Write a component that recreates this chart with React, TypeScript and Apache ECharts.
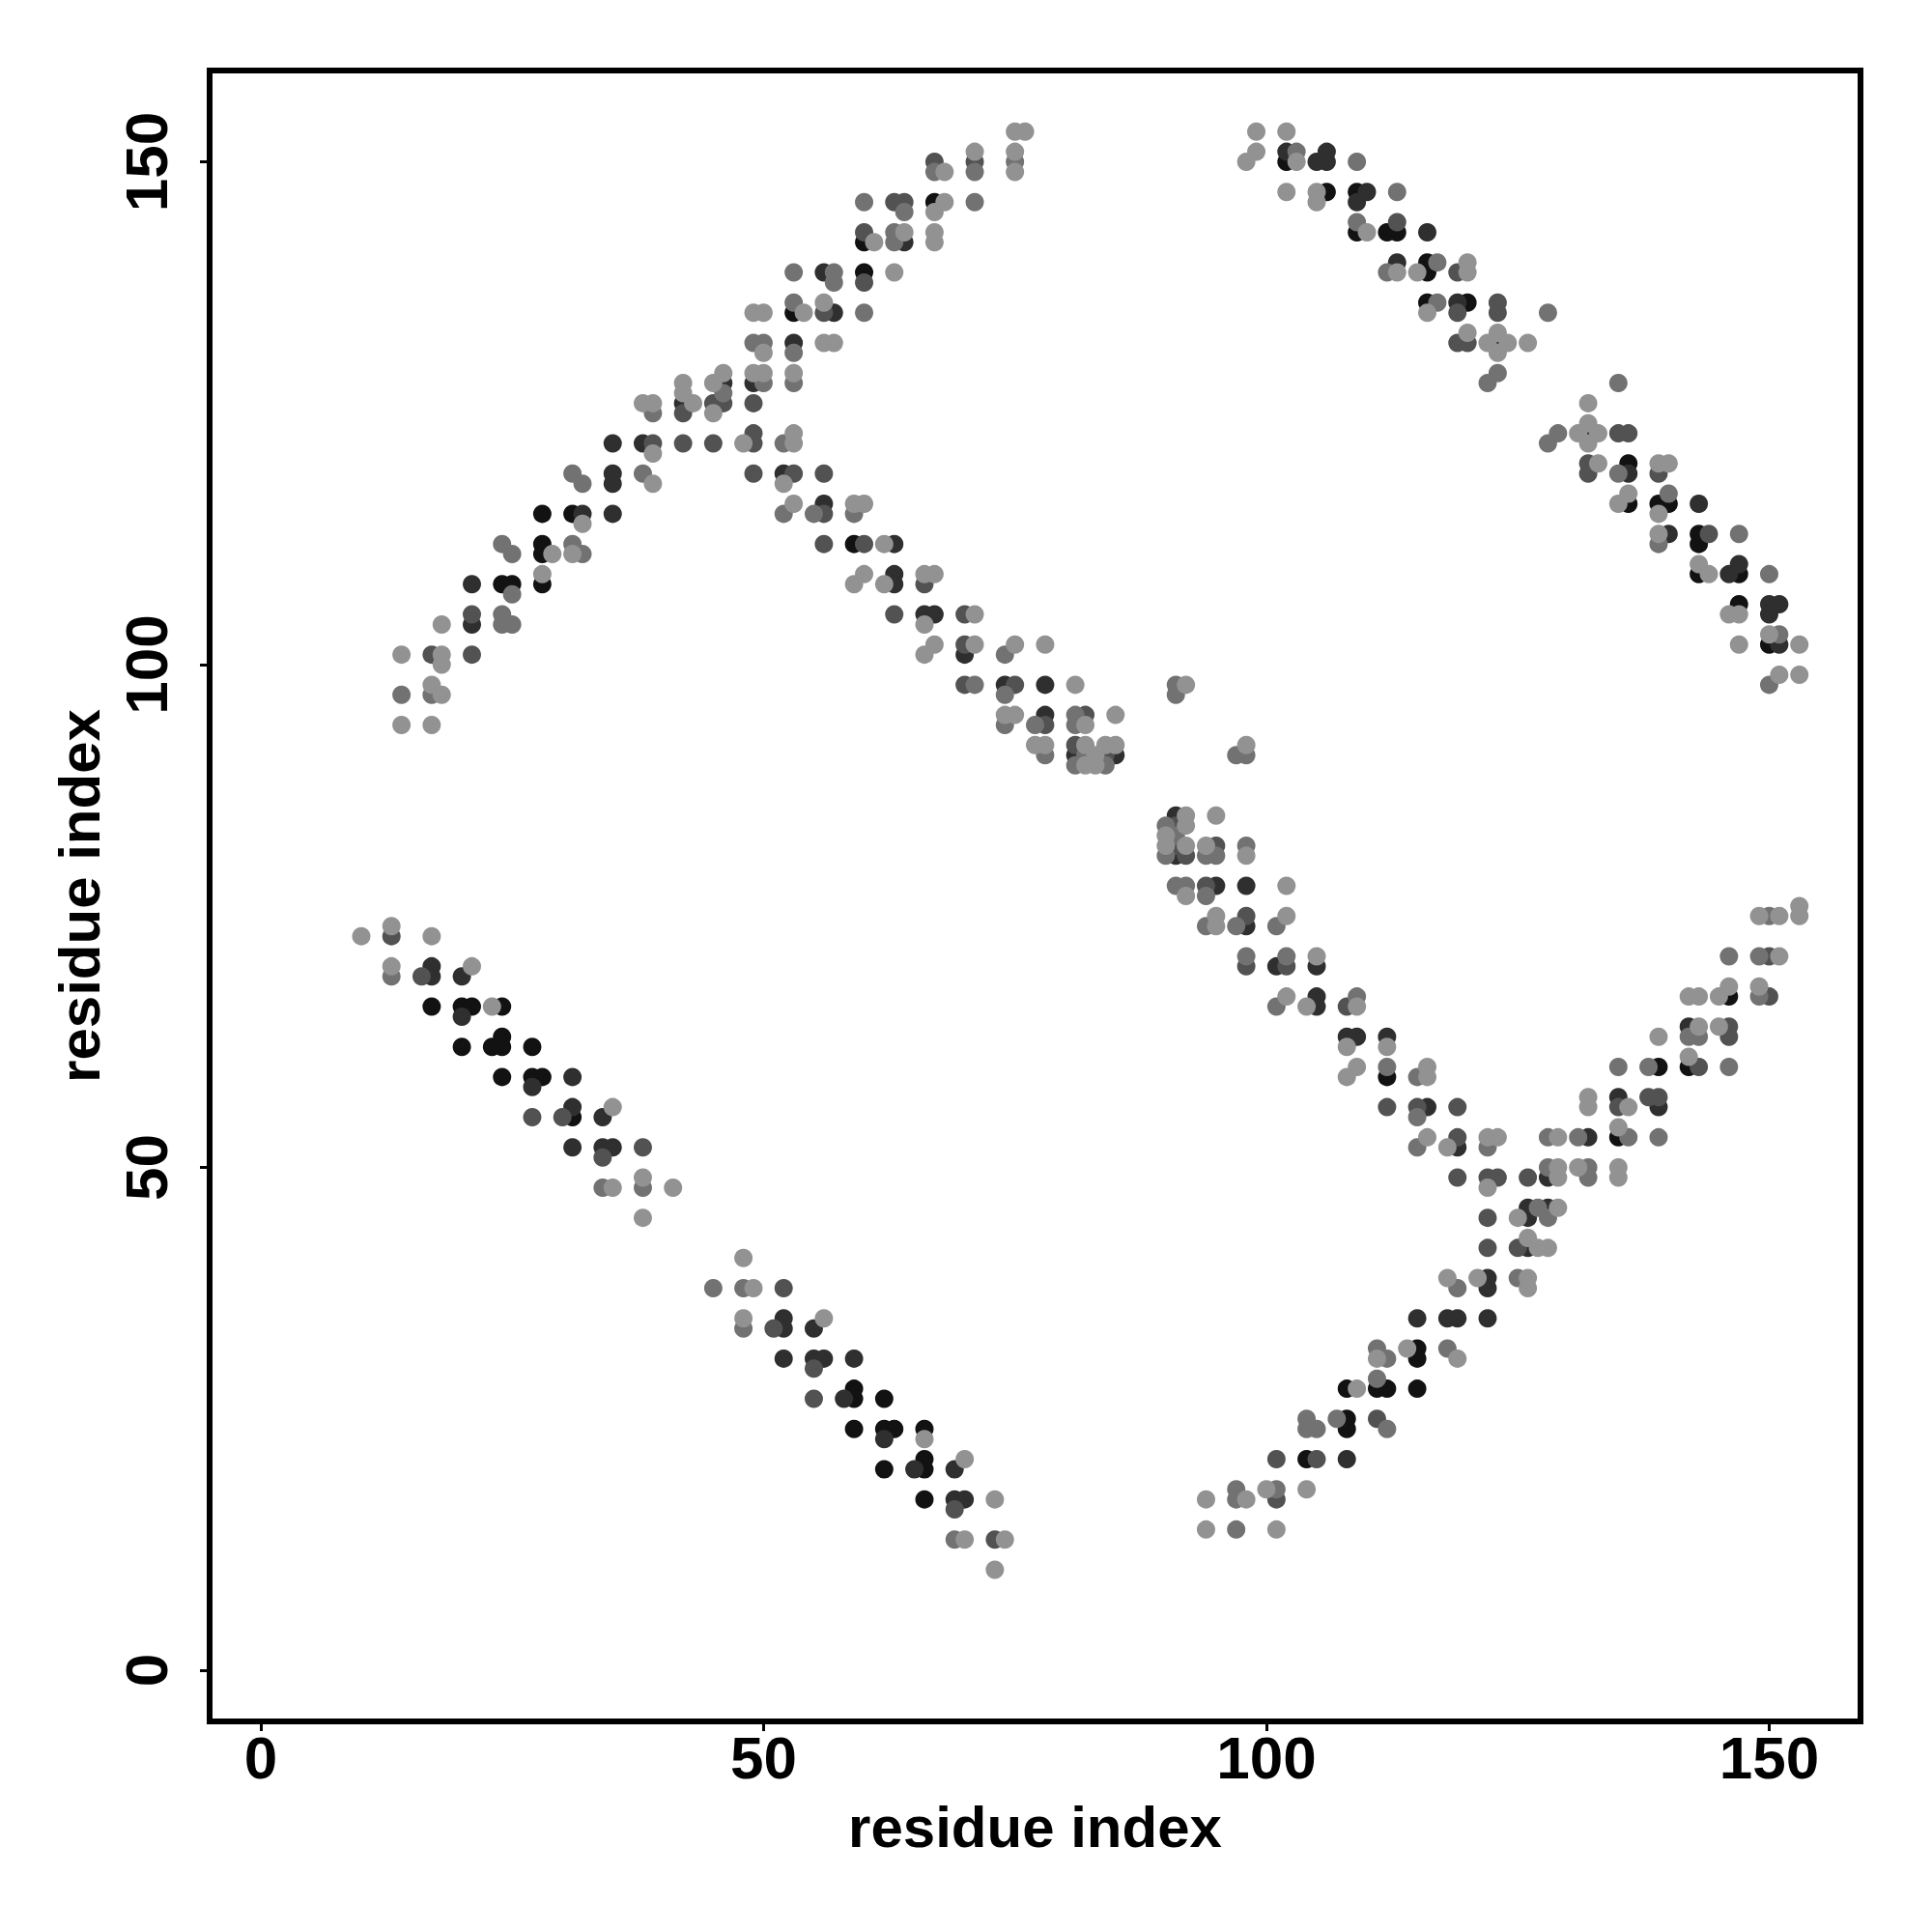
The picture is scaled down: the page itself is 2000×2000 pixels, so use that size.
import React, { useEffect, useRef } from "react";
import * as echarts from "echarts";

// residue-residue contacts [x, y], grouped by grey level (darkest first)
const contactsBlack: [number, number][] = [
  [24,108],[25,108],[28,108],[28,112],[28,111],[28,115],[31,115],
  [53,135],[60,139],[60,142],[67,146],
  [59,112],
  [102,150],[106,147],[109,147],[109,143],[112,143],[113,143],[116,140],[116,139],[116,136],[120,136],
  [136,120],[136,116],[139,116],[140,116],[143,113],[143,112],[143,109],[147,109],[147,106],[150,102],
  [17,66],[20,66],[21,66],[24,66],[20,62],[23,62],[24,63],[24,62],[27,62],[24,59],[27,59],[28,59],[31,55],
  [59,28],[59,27],[62,27],[59,24],[62,24],[63,24],[66,24],[62,20],[66,21],[66,20],[66,17],
  [112,59],
  [115,32],[115,31],[108,28],[111,28],[112,28],[115,28],[108,25],[108,24],[104,21],
  [146,67],[139,60],[142,60],[135,53],
];

const contactsDark: [number, number][] = [
  [21,104],[21,108],[32,115],[35,115],[35,119],[35,118],[35,122],[38,122],[42,126],
  [52,119],[46,128],[49,128],[53,132],[57,135],[56,139],[64,142],
  [56,116],[63,112],[63,109],[63,108],[66,105],[67,105],[70,101],[74,98],[78,98],[78,95],[81,91],[85,91],
  [102,151],[105,150],[106,151],[106,150],[110,147],[109,146],[116,143],[113,140],[119,136],[123,132],
  [132,123],[136,119],[143,116],[140,113],[146,109],[147,110],[150,106],[151,106],[150,105],[151,102],
  [17,70],[17,69],[20,69],[20,65],[27,58],[31,59],[31,56],[34,55],[31,52],[34,52],[35,52],
  [52,35],[52,34],[55,34],[52,31],[55,31],[56,31],[59,31],[58,27],[62,23],[65,20],[69,20],[69,17],[70,17],
  [91,85],[91,81],[95,78],[98,78],[98,74],[101,70],[105,70],[105,67],[105,66],
  [108,63],[109,63],[112,63],[116,56],[119,52],[126,46],[126,45],[128,46],[126,42],[122,39],[122,38],
  [115,35],[118,35],[119,35],[122,35],[108,21],
  [142,64],[135,57],[139,56],[132,53],[128,49],
];

const contactsMid: [number, number][] = [
  [17,101],[21,101],[21,105],[39,122],[42,122],[45,122],[42,125],[45,126],
  [49,119],[53,119],[56,119],[49,122],[49,123],[46,126],[49,126],[56,135],[60,138],[60,143],[63,146],[64,146],[67,150],[71,150],
  [56,115],[56,112],[60,112],[66,108],[63,105],[70,105],[70,102],[70,98],[75,98],[78,94],[82,95],[81,92],[84,91],
  [113,144],[119,139],[119,135],[123,136],[123,135],[119,132],[120,132],
  [135,123],[136,123],[132,120],[132,119],[139,119],[144,113],
  [13,73],[16,69],[27,55],[30,55],[34,51],[38,52],
  [52,38],[51,34],[55,30],[55,27],[69,16],[73,13],
  [91,84],[91,82],[92,81],[95,82],[94,78],[98,75],[98,70],[102,70],[108,66],
  [112,56],[115,56],[119,56],[119,53],[119,49],[122,49],[123,49],[126,49],[122,45],[122,42],[125,42],
  [111,25],[101,21],[105,21],[101,17],
  [150,71],[150,67],[146,64],[146,63],[143,60],[135,56],[138,57],[139,57],
];

const contactsGrey: [number, number][] = [
  [14,97],[17,97],[24,105],[24,104],[25,104],[25,107],[24,112],[25,111],[31,112],[32,111],[31,119],[32,118],[38,119],[39,125],
  [52,122],[46,127],[50,128],[53,128],[49,132],[50,132],[53,131],[53,136],[60,135],[53,139],[57,139],[57,138],[63,143],[63,142],[60,146],[64,145],[71,146],[67,149],[71,149],[75,150],
  [52,115],[55,115],[59,115],[74,101],[71,98],[74,97],[74,94],[77,94],[81,95],[81,94],[78,91],[82,91],[81,90],[84,90],
  [103,151],[109,150],[113,147],[109,144],[112,139],[117,140],[117,136],[128,135],[123,129],[122,128],
  [135,128],[129,123],[128,122],[135,119],[140,117],[139,112],[147,113],[150,109],[151,103],[150,98],
  [13,69],[34,48],[38,48],
  [45,38],[48,38],[48,34],[69,13],
  [91,98],[91,97],[97,91],[98,91],[90,84],[91,83],[90,81],[94,81],[95,81],[98,82],[91,78],[92,78],[94,77],[94,74],[97,74],[101,74],[98,71],[102,71],[101,66],[109,67],
  [112,60],[115,59],[115,55],[115,52],[122,52],[127,46],[128,45],[119,38],[125,39],
  [111,32],[112,31],[118,32],[111,29],[104,25],[104,24],[105,24],[107,25],[112,24],[97,18],[97,17],[101,18],[97,14],
  [150,75],[146,71],[149,71],[149,67],[142,63],[143,63],[135,60],[138,60],[146,60],[128,53],[131,53],[136,53],[139,53],[128,50],[132,50],[132,49],
];

const contactsLight: [number, number][] = [
  [14,94],[17,94],[17,98],[18,97],[14,101],[18,101],[18,100],[18,104],[28,109],[29,111],[31,111],[32,114],[39,118],[39,121],[38,126],[39,126],[42,128],[42,127],[43,126],[45,125],[45,128],
  [52,118],[48,122],[53,122],[53,123],[46,129],[49,129],[50,129],[53,129],[50,131],[56,132],[57,132],[49,135],[50,135],[54,135],[56,136],[63,139],[61,142],[64,143],[67,143],[67,142],[67,145],[68,146],[68,149],[71,151],[75,151],[75,149],[75,153],[76,153],
  [53,116],[59,116],[60,116],[62,112],[60,109],[59,108],[62,108],[66,109],[67,109],[66,104],[71,105],[67,102],[66,101],[71,102],[75,102],[78,102],[81,98],[74,95],[75,95],[82,94],[85,95],[77,92],[78,92],[82,92],[82,90],[83,90],[84,92],[85,92],[83,91],
  [99,153],[102,153],[99,151],[98,150],[103,150],[102,147],[105,147],[105,146],[110,143],[113,139],[115,139],[120,140],[120,139],[116,135],[120,133],[122,132],[123,133],[124,132],[123,131],[126,132],
  [132,126],[132,124],[131,123],[133,123],[132,122],[133,120],[139,120],[140,120],[135,116],[136,117],[139,115],[139,113],[143,110],[144,109],[146,105],[147,105],[147,102],[150,103],[153,102],[151,99],[153,99],
  [10,73],[13,74],[17,73],[13,70],[21,70],[23,66],[35,56],[35,48],[38,49],[41,48],[38,45],
  [48,41],[49,38],[48,35],[56,35],[66,23],[70,21],[73,17],[70,13],[74,13],[73,10],
  [92,98],[98,92],[92,85],[92,84],[90,83],[90,82],[92,82],[95,85],[94,82],[98,81],[92,77],[102,78],[95,75],[95,74],[102,75],[105,71],[102,67],[104,66],[109,66],
  [108,62],[112,62],[108,59],[109,60],[116,60],[116,59],[116,53],[118,52],[122,53],[123,53],[122,48],[125,45],[129,46],[126,43],[127,42],[128,42],[118,39],[121,39],[126,39],[126,38],
  [111,31],[114,32],[119,31],[109,28],[94,17],[98,17],[100,18],[104,18],[94,14],[101,14],
  [153,76],[153,75],[149,75],[151,75],[151,71],[142,67],[143,67],[145,67],[146,68],[149,68],[143,64],[145,64],[139,63],[142,61],[132,57],[132,56],[136,56],[129,53],[135,54],[129,50],[131,50],[129,49],[135,50],[135,49],
];

const tickValues = [0, 50, 100, 150];
const axisMin = -5.08;
const axisMax = 159.08;
const axisTitle = "residue index";

const groups = [
  { name: "black", data: contactsBlack, color: "#121212" },
  { name: "dark", data: contactsDark, color: "#2f2f2f" },
  { name: "mid", data: contactsMid, color: "#525252" },
  { name: "grey", data: contactsGrey, color: "#727272" },
  { name: "light", data: contactsLight, color: "#929292" },
];

const FONT = "'Liberation Sans', Arial, Helvetica, sans-serif";

export default function App() {
  const ref = useRef<HTMLDivElement>(null);
  useEffect(() => {
    if (!ref.current) return;
    const chart = echarts.init(ref.current, undefined, { renderer: "svg" });
    const labelStyle = {
      fontSize: 62,
      fontWeight: "bold" as const,
      fontFamily: FONT,
      color: "#000",
    };
    const commonAxis = {
      type: "value" as const,
      min: axisMin,
      max: axisMax,
      axisLine: { show: false, onZero: false },
      splitLine: { show: false },
      axisTick: {
        show: true,
        customValues: tickValues,
        length: 10,
        lineStyle: { color: "#000", width: 3 },
      },
      name: axisTitle,
      nameLocation: "middle" as const,
      nameTextStyle: { ...labelStyle, fontSize: 60 },
    };
    chart.setOption({
      animation: false,
      backgroundColor: "#fff",
      grid: {
        left: 217,
        top: 73,
        width: 1709,
        height: 1709,
        show: true,
        borderColor: "#000",
        borderWidth: 6,
        backgroundColor: "transparent",
        containLabel: false,
      },
      xAxis: {
        ...commonAxis,
        position: "bottom",
        nameGap: 79,
        axisLabel: { ...labelStyle, customValues: tickValues, margin: 6 },
      },
      yAxis: {
        ...commonAxis,
        position: "left",
        nameGap: 105,
        axisLabel: { ...labelStyle, customValues: tickValues, margin: 35, rotate: 90 },
      },
      series: groups.map((g) => ({
        type: "scatter",
        name: g.name,
        data: g.data,
        symbol: "circle",
        symbolSize: 19,
        silent: true,
        itemStyle: { color: g.color, opacity: 1 },
        emphasis: { disabled: true },
      })),
    });
    return () => chart.dispose();
  }, []);
  return (
    <div
      ref={ref}
      style={{ position: "absolute", left: 0, top: 0, width: 2000, height: 2000 }}
    />
  );
}
